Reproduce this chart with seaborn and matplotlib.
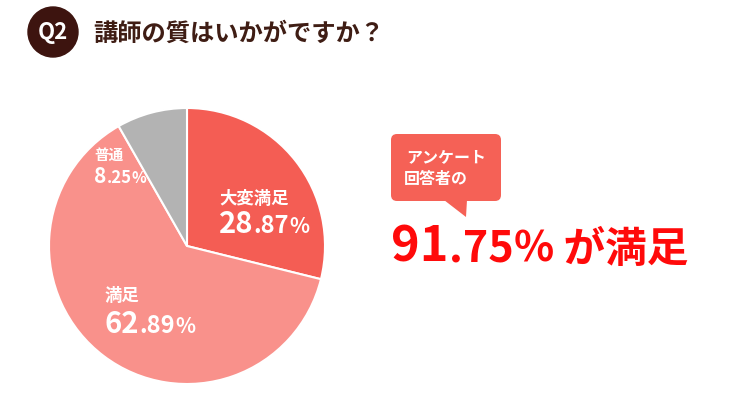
import matplotlib
matplotlib.use('Agg')
import matplotlib.pyplot as plt
from matplotlib.patches import FancyBboxPatch, Polygon, Circle
import seaborn as sns

sns.set_theme(style="white")
plt.rcParams['font.family'] = ['Noto Sans CJK JP', 'DejaVu Sans']

# data
labels = ['大変満足', '満足', '普通']
shares = [28.87, 62.89, 8.25]
colors = ['#f45d54', '#f9918b', '#b3b3b3']
title = '講師の質はいかがですか？'
satisfied = 91.75

fig = plt.figure(figsize=(7.32, 4), dpi=100)
fig.patch.set_facecolor('white')

# pie: center (187, 246) px, radius 138 px
W, H = 732, 400
cx, cy, r = 187, 246, 138
pie_ax = fig.add_axes([(cx - r) / W, (H - cy - r) / H, 2 * r / W, 2 * r / H])
pie_ax.pie(shares, colors=colors, startangle=90, counterclock=False,
           wedgeprops=dict(edgecolor='white', linewidth=1.5))
pie_ax.set_xlim(-1.0, 1.0)
pie_ax.set_ylim(-1.0, 1.0)
pie_ax.set_aspect('equal')
pie_ax.axis('off')

# overlay in pixel coordinates
ov = fig.add_axes([0, 0, 1, 1], zorder=5)
ov.set_xlim(0, W)
ov.set_ylim(H, 0)
ov.axis('off')
ov.patch.set_alpha(0)

renderer = fig.canvas.get_renderer()


def mixed(x, y, parts, color):
    for s, size in parts:
        t = ov.text(x, y, s, fontsize=size, color=color, fontweight='bold',
                    ha='left', va='baseline')
        x += t.get_window_extent(renderer).width


def pct_parts(v, big, mid, small):
    s = f'{v:.2f}'
    i, d = s.split('.')
    return [(i, big), ('.' + d, mid), ('%', small)]


# heading
ov.add_patch(Circle((53, 32), 25, color='#3d140f'))
ov.text(53, 33, 'Q2', color='white', fontsize=16, fontweight='bold',
        ha='center', va='center')
ov.text(93, 34, title, color='#3f1d14', fontsize=17.5, fontweight='bold',
        ha='left', va='center')

# slice labels
label_pos = [(219, 204, 233), (105, 301, 333), (94, 160, 183)]
sizes = [(12.5, 21, 17, 15), (12.5, 21, 17, 15), (10.5, 15, 12, 11)]
for lab, v, (x, ly, vy), (ls, b, m, s) in zip(labels, shares, label_pos, sizes):
    ov.text(x, ly, lab, color='white', fontsize=ls, fontweight='bold',
            ha='left', va='baseline')
    mixed(x, vy, pct_parts(v, b, m, s), 'white')

# speech bubble
bub = '#f56156'
ov.add_patch(FancyBboxPatch((391, 134), 110, 67,
                            boxstyle='round,pad=0,rounding_size=6',
                            facecolor=bub, edgecolor='none'))
ov.add_patch(Polygon([(444, 200), (467, 200), (466, 217)], closed=True,
                     facecolor=bub, edgecolor='none'))
ov.text(406, 162, 'アンケート', color='white', fontsize=11.5,
        fontweight='bold', ha='left', va='baseline')
ov.text(404, 184, '回答者の', color='white', fontsize=11.5,
        fontweight='bold', ha='left', va='baseline')

# headline
red = '#ff0a0a'
mixed(391, 262, pct_parts(satisfied, 35, 31, 30) + [(' が満足', 30)], red)

fig.savefig('out.png', dpi=100)
